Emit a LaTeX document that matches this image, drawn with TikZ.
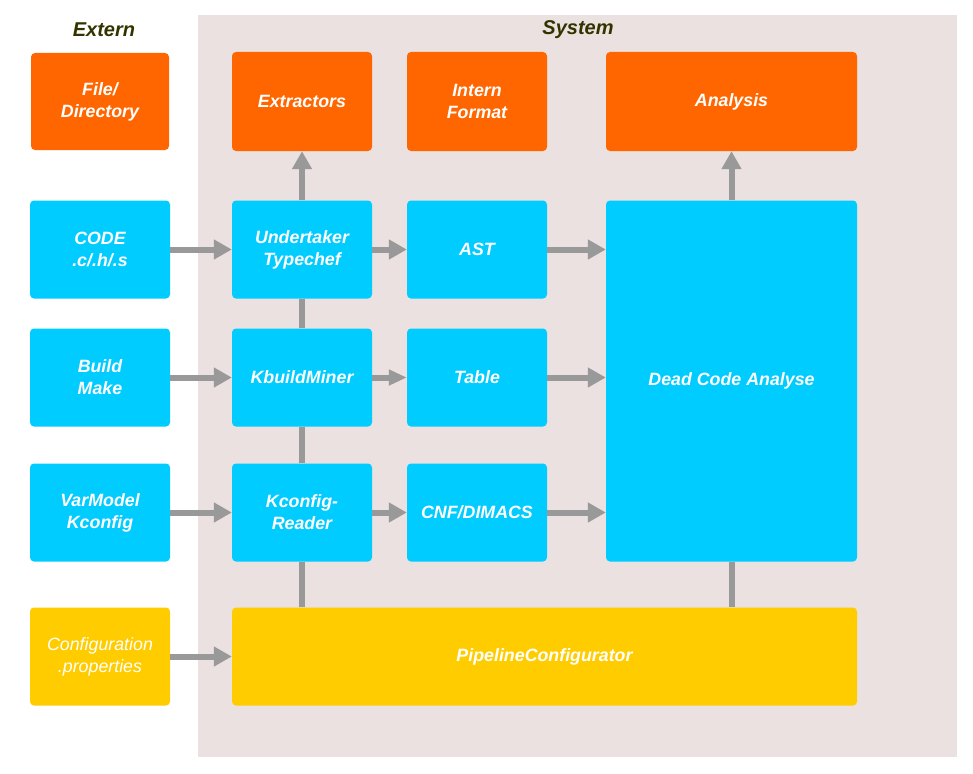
\documentclass[tikz,border=0pt]{standalone}
\usepackage{fontspec}
\setmainfont{Liberation Sans}
\usetikzlibrary{arrows.meta}
\definecolor{sysbg}{RGB}{234,225,224}
\definecolor{orng}{RGB}{255,102,0}
\definecolor{cyn}{RGB}{0,204,255}
\definecolor{ylw}{RGB}{255,204,0}
\definecolor{arr}{RGB}{153,153,153}
\definecolor{ttl}{RGB}{51,51,0}
\begin{document}
\begin{tikzpicture}[x=1pt,y=-1pt,
  box/.style={rounded corners=4pt, inner sep=0pt, text=white, align=center,
    font=\fontsize{17.8}{22}\selectfont\bfseries\itshape},
  smallbox/.style={box, minimum width=140pt, minimum height=98pt},
  ttlstyle/.style={text=ttl, font=\fontsize{20}{24}\selectfont\bfseries\itshape},
  conn/.style={draw=arr, line width=6pt},
  arrw/.style={conn, -{Triangle[width=19pt,length=18pt]}}
]
\useasboundingbox (0,0) rectangle (973,773);
\fill[sysbg] (198,15) rectangle (957,757);
\node[ttlstyle] (tex) at (104,30) {Extern};
\node[ttlstyle] (tsy) at (578,30) {System};

\node[box, fill=orng, minimum width=138pt, minimum height=97pt] (file) at (100,101.5) {File/\\Directory};
\node[smallbox, fill=orng, minimum height=99pt] (extr) at (302,101.5) {Extractors};
\node[smallbox, fill=orng, minimum height=99pt] (intern) at (477,101.5) {Intern\\Format};
\node[box, fill=orng, minimum width=251pt, minimum height=99pt] (anal) at (731.5,101.5) {Analysis};

\node[smallbox, fill=cyn] (code) at (100,249.5) {CODE\\.c/.h/.s};
\node[smallbox, fill=cyn] (under) at (302,249.5) {Undertaker\\Typechef};
\node[smallbox, fill=cyn] (ast) at (477,249.5) {AST};
\node[box, fill=cyn, minimum width=251pt, minimum height=361pt] (dead) at (731.5,381) {Dead Code Analyse};

\node[smallbox, fill=cyn] (build) at (100,377.5) {Build\\Make};
\node[smallbox, fill=cyn] (kbuild) at (302,377.5) {KbuildMiner};
\node[smallbox, fill=cyn] (table) at (477,377.5) {Table};

\node[smallbox, fill=cyn] (var) at (100,512.5) {VarModel\\Kconfig};
\node[smallbox, fill=cyn] (kconf) at (302,512.5) {Kconfig-\\Reader};
\node[smallbox, fill=cyn] (cnf) at (477,512.5) {CNF/DIMACS};

\node[smallbox, fill=ylw, font=\fontsize{17.8}{22}\selectfont\itshape] (conf) at (100,656.5) {Configuration\\.properties};
\node[box, fill=ylw, minimum width=625pt, minimum height=98pt] (pipe) at (544.5,656.5) {PipelineConfigurator};

\draw[arrw] (under.north) -- (extr.south);
\draw[arrw] (dead.north) -- (anal.south);
\draw[arrw] (code) -- (under);
\draw[arrw] (under) -- (ast);
\draw[arrw] (ast.east) -- (ast.east -| dead.west);
\draw[arrw] (build) -- (kbuild);
\draw[conn, -{Triangle[width=15pt,length=18pt]}] (kbuild) -- (table);
\draw[arrw] (table.east) -- (table.east -| dead.west);
\draw[arrw] (var) -- (kconf);
\draw[arrw] (kconf) -- (cnf);
\draw[arrw] (cnf.east) -- (cnf.east -| dead.west);
\draw[arrw] (conf) -- (pipe);
\draw[conn] (kconf.south |- pipe.north) -- (kconf.south);
\draw[conn] (kconf.north) -- (kbuild.south);
\draw[conn] (kbuild.north) -- (under.south);
\draw[conn] (dead.south) -- (dead.south |- pipe.north);
\end{tikzpicture}
\end{document}
